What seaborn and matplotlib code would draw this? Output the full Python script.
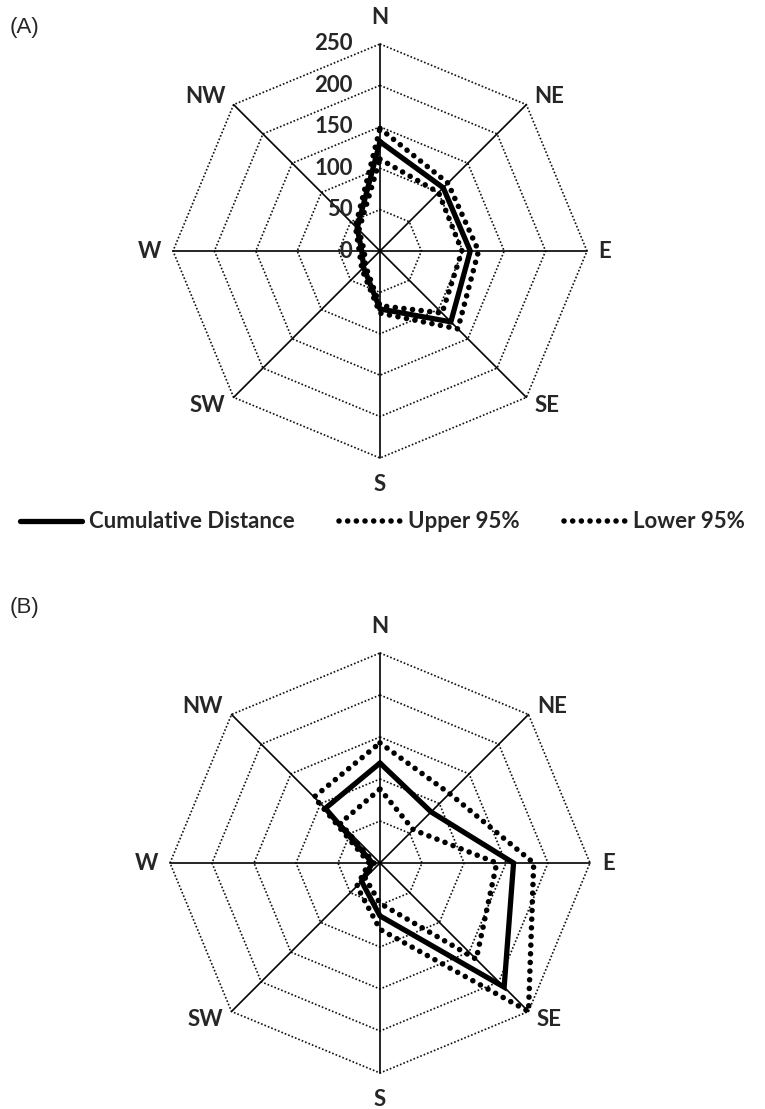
#!/usr/bin/env python3
import numpy as np
import pandas as pd
import seaborn as sns
import matplotlib.pyplot as plt

directions = ["N", "NE", "E", "SE", "S", "SW", "W", "NW"]
rings = [50, 100, 150, 200, 250]
tick_labels = ["0", "50", "100", "150", "200", "250"]
tick_values = [0, 50, 100, 150, 200, 250]

# panel A
a_cumulative = [132, 108, 109, 121, 70, 28, 22, 39]
a_upper = [148, 116, 119, 133, 75, 31, 25, 42]
a_lower = [111, 100, 99, 106, 66, 25, 19, 36]

# panel B
b_cumulative = [119, 86, 159, 209, 63, 31, 9, 92]
b_upper = [143, 117, 183, 250, 79, 39, 13, 111]
b_lower = [88, 56, 139, 162, 48, 25, 7, 67]

W, H = 765, 1109
FONT = ["Lato", "DejaVu Sans"]


def polygon(values, name):
    ang = np.deg2rad(np.arange(len(values) + 1) * 45.0)
    r = np.array(list(values) + [values[0]], dtype=float)
    return pd.DataFrame({"x": r * np.sin(ang), "y": r * np.cos(ang),
                         "order": range(len(r)), "series": name})


def draw_panel(ax, cum, up, lo, show_ticks):
    ang = np.deg2rad(np.arange(9) * 45.0)
    for ring in rings:
        ax.plot(ring * np.sin(ang), ring * np.cos(ang), color="#111111",
                linestyle=(0, (1, 1.2)), lw=1.2, zorder=1)
    for a in ang[:8]:
        ax.plot([0, 250 * np.sin(a)], [0, 250 * np.cos(a)], color="black",
                lw=1.2, zorder=1)

    dot = dict(color="black", lw=4.0, linestyle=(0, (0.01, 1.55)),
               dash_capstyle="round", zorder=3)
    sns.lineplot(data=polygon(up, "Upper 95%"), x="x", y="y", sort=False,
                 estimator=None, ax=ax, label="Upper 95%", **dot)
    sns.lineplot(data=polygon(lo, "Lower 95%"), x="x", y="y", sort=False,
                 estimator=None, ax=ax, label="Lower 95%", **dot)
    sns.lineplot(data=polygon(cum, "Cumulative Distance"), x="x", y="y",
                 sort=False, estimator=None, ax=ax,
                 label="Cumulative Distance", color="black", lw=3.8,
                 solid_joinstyle="miter", zorder=4)

    for i, d in enumerate(directions):
        a = np.deg2rad(i * 45.0)
        if d in ("N", "S"):
            r, ha = 282, "center"
        else:
            r = 264
            ha = "left" if np.sin(a) > 0 else "right"
        ax.text(r * np.sin(a), r * np.cos(a), d, ha=ha, va="center",
                fontsize=16, family=FONT, fontweight="bold")

    if show_ticks:
        for v, t in zip(tick_values, tick_labels):
            ax.text(-33, v, t, ha="right", va="center", fontsize=16,
                    family=FONT, fontweight="bold")
    ax.set_axis_off()


def make_axes(fig, top_px, bottom_px, cx, cy, scale):
    ax = fig.add_axes([0, 1 - bottom_px / H, 1, (bottom_px - top_px) / H])
    ax.set_xlim(-cx / scale, (W - cx) / scale)
    ax.set_ylim(-(bottom_px - cy) / scale, (cy - top_px) / scale)
    return ax


def main():
    sns.set_theme(style="white")
    plt.rcParams["font.family"] = FONT
    fig = plt.figure(figsize=(W / 100, H / 100), dpi=100)

    ax_a = make_axes(fig, 0, 500, 380, 251, 0.828)
    draw_panel(ax_a, a_cumulative, a_upper, a_lower, True)
    ax_b = make_axes(fig, 560, 1109, 380, 863, 0.84)
    draw_panel(ax_b, b_cumulative, b_upper, b_lower, False)

    handles, labels = ax_a.get_legend_handles_labels()
    order = [labels.index("Cumulative Distance"), labels.index("Upper 95%"),
             labels.index("Lower 95%")]
    ax_a.get_legend().remove()
    ax_b.get_legend().remove()
    fig.legend([handles[i] for i in order], [labels[i] for i in order],
               ncol=3, loc="center", bbox_to_anchor=(0.5, 1 - 522 / H),
               frameon=False, handlelength=2.8, handletextpad=0.3,
               columnspacing=2.0,
               prop={"family": FONT, "size": 16, "weight": "bold"})

    fig.text(10 / W, 1 - 28 / H, "(A)", fontsize=16,
             family=["Liberation Sans"], va="center")
    fig.text(10 / W, 1 - 607 / H, "(B)", fontsize=16,
             family=["Liberation Sans"], va="center")
    fig.savefig("out.png", dpi=100)


if __name__ == "__main__":
    main()
